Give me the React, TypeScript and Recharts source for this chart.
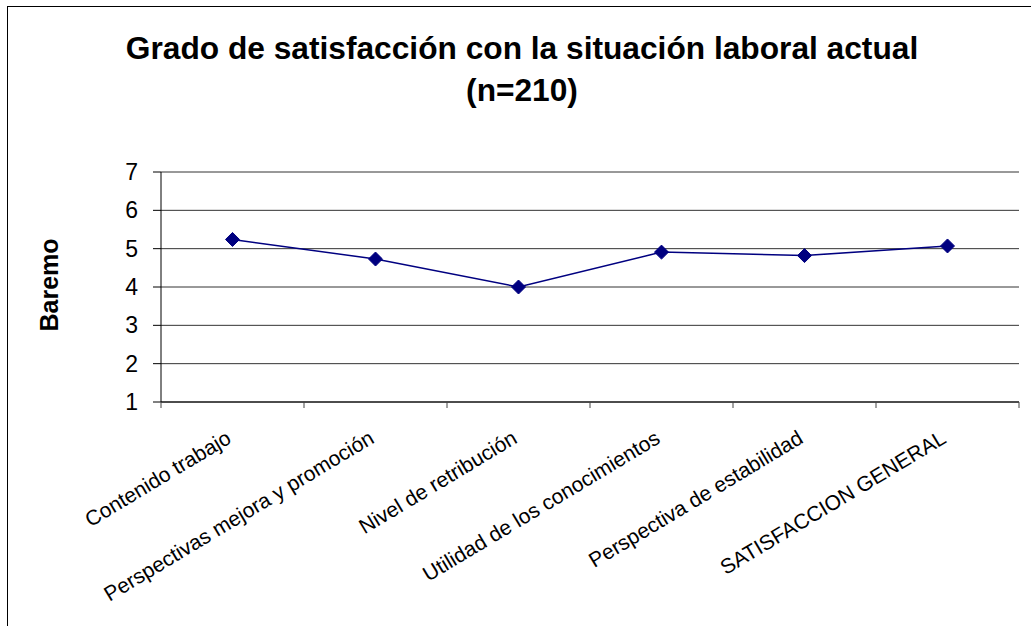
import React from 'react';
import { LineChart, Line, XAxis, YAxis, CartesianGrid } from 'recharts';

const categories = [
  'Contenido trabajo',
  'Perspectivas mejora y promoción',
  'Nivel de retribución',
  'Utilidad de los conocimientos',
  'Perspectiva de estabilidad',
  'SATISFACCION GENERAL',
];
const baremo = [5.24, 4.73, 4.0, 4.91, 4.82, 5.07];
const yTicks = [1, 2, 3, 4, 5, 6, 7];

const data = categories.map((name, i) => ({ name, value: baremo[i] }));

const W = 1031;
const H = 626;
const Y_AXIS_W = 161;
const MARGIN = { top: 172, right: 12, bottom: 0, left: 0 };
const X_AXIS_H = 224;
const BAND = (W - MARGIN.right - Y_AXIS_W) / categories.length;
const FONT = 'Arial, "Liberation Sans", sans-serif';
const NAVY = '#000080';

const Diamond = (props: any) => {
  const { cx, cy } = props;
  if (cx == null || cy == null) return null;
  const r = 7;
  return (
    <polygon
      points={`${cx},${cy - r} ${cx + r},${cy} ${cx},${cy + r} ${cx - r},${cy}`}
      fill={NAVY}
      stroke={NAVY}
    />
  );
};

// category labels sit between boundary tick marks, Excel style
const XTick = (props: any) => {
  const { x, y, payload } = props;
  const idx = categories.indexOf(payload.value);
  const left = x - BAND / 2;
  const ty = y + 40;
  return (
    <g>
      <line x1={left} y1={y} x2={left} y2={y + 6} stroke="#444" />
      {idx === categories.length - 1 && (
        <line x1={x + BAND / 2} y1={y} x2={x + BAND / 2} y2={y + 6} stroke="#444" />
      )}
      <text
        x={x}
        y={ty}
        textAnchor="end"
        fontSize={21}
        fontFamily={FONT}
        fill="#000"
        transform={`rotate(-31, ${x}, ${ty})`}
      >
        {payload.value}
      </text>
    </g>
  );
};

export default function App() {
  return (
    <div style={{ position: 'absolute', left: 0, top: 0, width: W, height: H, overflow: 'hidden', background: '#fff' }}>
      <div
        style={{
          position: 'absolute',
          left: 7,
          top: 6,
          width: W + 40,
          height: H + 40,
          borderLeft: '1px solid #000',
          borderTop: '1px solid #000',
        }}
      />
      <div
        style={{
          position: 'absolute',
          left: 0,
          width: W,
          top: 27,
          textAlign: 'center',
          fontFamily: FONT,
          fontWeight: 'bold',
          fontSize: 31.7,
          lineHeight: '42px',
          paddingLeft: 13,
          boxSizing: 'border-box',
        }}
      >
        Grado de satisfacción con la situación laboral actual
        <br />
        (n=210)
      </div>
      <div
        style={{
          position: 'absolute',
          left: 49,
          top: 285,
          transform: 'translate(-50%, -50%) rotate(-90deg)',
          fontFamily: FONT,
          fontWeight: 'bold',
          fontSize: 25,
          whiteSpace: 'nowrap',
        }}
      >
        Baremo
      </div>
      <div style={{ position: 'absolute', left: 0, top: 0 }}>
        <LineChart width={W} height={H} data={data} margin={MARGIN}>
          <CartesianGrid vertical={false} stroke="#333" />
          <XAxis
            dataKey="name"
            height={X_AXIS_H}
            interval={0}
            padding={{ left: BAND / 2, right: BAND / 2 }}
            tickLine={false}
            tickSize={0}
            tickMargin={0}
            axisLine={{ stroke: '#000' }}
            tick={<XTick />}
          />
          <YAxis
            domain={[1, 7]}
            ticks={yTicks}
            width={Y_AXIS_W}
            tickSize={8}
            tickMargin={15}
            axisLine={{ stroke: '#000' }}
            tickLine={{ stroke: '#000' }}
            tick={{ fontSize: 23, fontFamily: FONT, fill: '#000' }}
          />
          <YAxis
            yAxisId="frame"
            orientation="right"
            width={0}
            domain={[1, 7]}
            tick={false}
            tickLine={false}
            axisLine={{ stroke: '#000' }}
          />
          <Line
            type="linear"
            dataKey="value"
            stroke={NAVY}
            strokeWidth={1.5}
            dot={<Diamond />}
            activeDot={false}
            isAnimationActive={false}
          />
        </LineChart>
      </div>
    </div>
  );
}
